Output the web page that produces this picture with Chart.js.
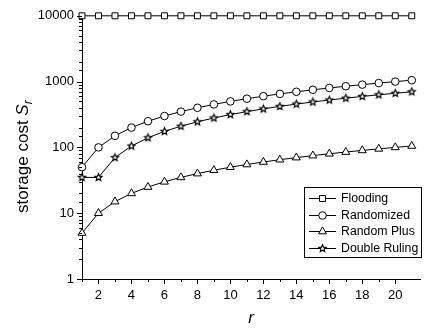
<!DOCTYPE html>
<html>
<head>
<meta charset="utf-8">
<script src="https://cdn.jsdelivr.net/npm/chart.js@4/dist/chart.umd.min.js"></script>
<style>
html,body{margin:0;padding:0;background:#fff;}
#wrap{width:429px;height:332px;position:relative;}
</style>
</head>
<body>
<div id="wrap"><canvas id="c" width="429" height="332"></canvas></div>
<script>
// ---- data ----
const rValues = [1,2,3,4,5,6,7,8,9,10,11,12,13,14,15,16,17,18,19,20,21];
const flooding = [10000,10000,10000,10000,10000,10000,10000,10000,10000,10000,10000,10000,10000,10000,10000,10000,10000,10000,10000,10000,10000];
const randomized = [50,100,150,200,250,300,350,400,450,500,550,600,650,700,750,800,850,900,950,1000,1050];
const randomPlus = [5,10,15,20,25,30,35,40,45,50,55,60,65,70,75,80,85,90,95,100,105];
const doubleRuling = [35,35,70,105,140,175,210,245,280,315,350,385,420,455,490,525,560,595,630,665,700];
const seriesNames = ['Flooding','Randomized','Random Plus','Double Ruling'];
const yTickLabels = [1,10,100,1000,10000];
const xTickLabels = [2,4,6,8,10,12,14,16,18,20];
const yTitle = 'storage cost ';
const ySymbol = 'S';
const ySub = 'r';
const xTitle = 'r';

const FONT = '"Liberation Sans", Arial, sans-serif';

function starCanvas(outer, inner){
  const s = Math.ceil(outer*2+3);
  const c = document.createElement('canvas');
  c.width = s; c.height = s;
  const g = c.getContext('2d');
  const cx = s/2, cy = s/2;
  g.beginPath();
  for(let i=0;i<10;i++){
    const rad = (i%2===0)?outer:inner;
    const a = -Math.PI/2 + i*Math.PI/5;
    const px = cx + rad*Math.cos(a), py = cy + rad*Math.sin(a);
    if(i===0) g.moveTo(px,py); else g.lineTo(px,py);
  }
  g.closePath();
  g.fillStyle='#fff'; g.fill();
  g.strokeStyle='#000'; g.lineWidth=1.2; g.lineJoin='miter'; g.stroke();
  return c;
}
const star = starCanvas(3.7, 1.7);

const styles = [
  {pointStyle:'rect', radius:4.2},
  {pointStyle:'circle', radius:3.8},
  {pointStyle:'triangle', radius:4.6},
  {pointStyle:star, radius:3.5}
];
const seriesData = [flooding, randomized, randomPlus, doubleRuling];

const datasets = seriesNames.map((name,i)=>({
  label: name,
  data: rValues.map((x,j)=>({x:x, y:seriesData[i][j]})),
  borderColor:'#000',
  borderWidth:1,
  backgroundColor:'#fff',
  pointStyle: styles[i].pointStyle,
  pointRadius: styles[i].radius,
  pointBorderColor:'#000',
  pointBackgroundColor:'#fff',
  pointBorderWidth:1,
  tension:0,
  clip:false
}));

function drawMarker(ctx, style, r, x, y){
  ctx.save();
  ctx.strokeStyle='#000'; ctx.fillStyle='#fff'; ctx.lineWidth=1;
  if(style==='rect'){
    const s = Math.SQRT1_2*r;
    ctx.beginPath(); ctx.rect(x-s,y-s,2*s,2*s); ctx.fill(); ctx.stroke();
  } else if(style==='circle'){
    ctx.beginPath(); ctx.arc(x,y,r,0,Math.PI*2); ctx.fill(); ctx.stroke();
  } else if(style==='triangle'){
    ctx.beginPath();
    let a=0;
    for(let k=0;k<3;k++){
      const px = x+Math.sin(a)*r, py = y-Math.cos(a)*r;
      if(k===0) ctx.moveTo(px,py); else ctx.lineTo(px,py);
      a += 2*Math.PI/3;
    }
    ctx.closePath(); ctx.fill(); ctx.stroke();
  } else {
    ctx.drawImage(style, Math.round(x-style.width/2), Math.round(y-style.height/2));
  }
  ctx.restore();
}

const decor = {
  id:'decor',
  afterDraw(chart){
    const ctx = chart.ctx;
    const xs = chart.scales.x, ys = chart.scales.y;
    const ca = chart.chartArea;
    ctx.save();
    ctx.strokeStyle='#000'; ctx.lineWidth=1;
    // x ticks
    xs.ticks.forEach(t=>{
      const v=t.value;
      if(!Number.isInteger(v)) return;
      const px = Math.round(xs.getPixelForValue(v))+0.5;
      const len = (v%2===0)?5:3;
      ctx.beginPath(); ctx.moveTo(px, ca.bottom); ctx.lineTo(px, ca.bottom+len); ctx.stroke();
    });
    // y ticks
    ys.ticks.forEach(t=>{
      const v=t.value;
      const lg = Math.log10(v);
      const major = Math.abs(lg-Math.round(lg))<1e-9;
      const py = Math.round(ys.getPixelForValue(v))+0.5;
      const len = major?5:3;
      ctx.beginPath(); ctx.moveTo(ca.left, py); ctx.lineTo(ca.left-len, py); ctx.stroke();
    });
    ctx.restore();

    // y title (rotated)
    ctx.save();
    ctx.fillStyle='#000';
    ctx.translate(28, 213);
    ctx.rotate(-Math.PI/2);
    ctx.textBaseline='alphabetic';
    ctx.font = '17px '+FONT;
    ctx.fillText(yTitle, 0, 0);
    let w = ctx.measureText(yTitle).width;
    ctx.font = 'italic 17px '+FONT;
    ctx.fillText(ySymbol, w, 0);
    w += ctx.measureText(ySymbol).width;
    ctx.font = 'italic 12px '+FONT;
    ctx.fillText(ySub, w, 4);
    ctx.restore();

    // x title
    ctx.save();
    ctx.fillStyle='#000';
    ctx.font='italic 17px '+FONT;
    ctx.textAlign='center';
    ctx.textBaseline='alphabetic';
    ctx.fillText(xTitle, (ca.left+ca.right)/2, 323);
    ctx.restore();

    // legend
    ctx.save();
    const bx=304.5, by=187.5, bw=117, bh=70;
    ctx.strokeStyle='#000'; ctx.lineWidth=1;
    ctx.fillStyle='#fff';
    ctx.fillRect(bx,by,bw,bh);
    ctx.strokeRect(bx,by,bw,bh);
    ctx.font='12.3px '+FONT;
    ctx.textBaseline='middle';
    seriesNames.forEach((name,i)=>{
      const y = Math.round(198 + i*16.7)+0.5;
      ctx.beginPath(); ctx.moveTo(309,y); ctx.lineTo(336,y); ctx.stroke();
      drawMarker(ctx, styles[i].pointStyle, styles[i].radius, 322.5, y);
      ctx.fillStyle='#000';
      ctx.fillText(name, 341, y+0.5);
    });
    ctx.restore();
  }
};

new Chart(document.getElementById('c'), {
  type:'line',
  data:{datasets},
  options:{
    responsive:false,
    animation:false,
    devicePixelRatio:1,
    layout:{padding:{left:0, right:8, top:12, bottom:0}},
    plugins:{legend:{display:false}, tooltip:{enabled:false}},
    scales:{
      x:{
        type:'linear', min:1, max:21.5,
        grid:{display:false, drawTicks:false},
        border:{display:true, color:'#000', width:1},
        afterFit(s){ s.height = 53; },
        ticks:{
          stepSize:1, autoSkip:false, maxRotation:0, padding:9,
          color:'#000', font:{family:FONT, size:13},
          callback:(v)=> xTickLabels.includes(v) ? String(v) : ''
        }
      },
      y:{
        type:'logarithmic', min:1, max:10000,
        grid:{display:false, drawTicks:false},
        border:{display:true, color:'#000', width:1},
        afterFit(s){ s.width = 82; },
        ticks:{
          autoSkip:false, padding:8,
          color:'#000', font:{family:FONT, size:13},
          callback:(v)=> yTickLabels.includes(v) ? String(v) : ''
        }
      }
    }
  },
  plugins:[decor]
});
</script>
</body>
</html>
